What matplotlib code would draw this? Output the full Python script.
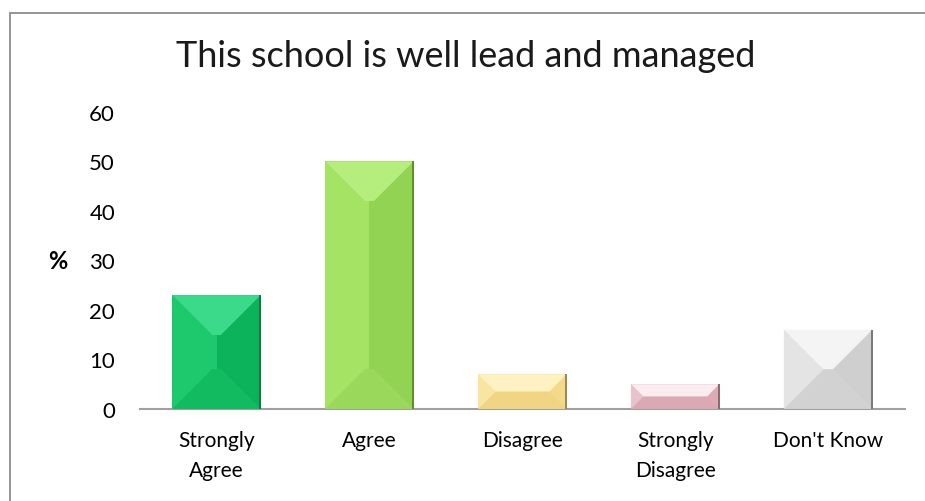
import numpy as np
import matplotlib
matplotlib.use("Agg")
import matplotlib.pyplot as plt
from matplotlib.patches import Polygon, Rectangle

categories = ["Strongly\nAgree", "Agree", "Disagree", "Strongly\nDisagree", "Don't Know"]
values = [23, 50, 7, 5, 16]
# base, top face, left face, right face, bottom face, edge
bar_colors = [
    ("#14bf64", "#3ada8a", "#1ec86c", "#0db35a", "#12bb60", "#05803f"),
    ("#9bdd5c", "#b6ee7e", "#a4e364", "#93d354", "#99d85a", "#5f8f30"),
    ("#f6dc90", "#fff2c2", "#f9e4a2", "#f3d98a", "#f0d585", "#9c8a50"),
    ("#e2b4bf", "#fbecf1", "#e8c2cc", "#dcabb7", "#dba9b5", "#8d6a72"),
    ("#d8d8d8", "#f4f4f4", "#e4e4e4", "#cfcfcf", "#d2d2d2", "#7a7a7a"),
]
yticks = [0, 10, 20, 30, 40, 50, 60]

plt.rcParams['font.family'] = ['Lato', 'DejaVu Sans']

fig = plt.figure(figsize=(9.25, 5.02), dpi=100)
ax = fig.add_axes([0.1514, 0.1833, 0.8266, 0.5917])

x = np.arange(len(values))
bars = ax.bar(x, values, width=0.58, color=[c[0] for c in bar_colors],
              edgecolor="none", zorder=2)
ax.set_xlim(-0.5, len(values) - 0.5)
ax.set_ylim(0, 60)
ax.set_yticks(yticks)
ax.set_xticks(x)
ax.set_xticklabels(categories, fontsize=15, linespacing=1.65)
ax.tick_params(axis='y', labelsize=16, length=0, pad=18)
ax.tick_params(axis='x', length=0, pad=15)
for s in ["top", "right", "left"]:
    ax.spines[s].set_visible(False)
ax.spines["bottom"].set_color("#a0a0a0")
ax.spines["bottom"].set_linewidth(1.5)

# bevel faces drawn in pixel space, then mapped back to data coords
fig.canvas.draw()
inv = ax.transData.inverted()
for b, cols in zip(bars, bar_colors):
    x0, y0 = b.get_x(), b.get_y()
    x1, y1 = x0 + b.get_width(), y0 + b.get_height()
    (px0, py0), (px1, py1) = ax.transData.transform([(x0, y0), (x1, y1)])
    d = min((px1 - px0) / 2, (py1 - py0) / 2, 40)
    ix0, ix1 = px0 + d, px1 - d
    iy0, iy1 = py0 + d, py1 - d
    faces = [
        ([(px0, py1), (px1, py1), (ix1, iy1), (ix0, iy1)], cols[1]),  # top
        ([(px0, py0), (px1, py0), (ix1, iy0), (ix0, iy0)], cols[4]),  # bottom
        ([(px0, py0), (ix0, iy0), (ix0, iy1), (px0, py1)], cols[2]),  # left
        ([(px1, py0), (ix1, iy0), (ix1, iy1), (px1, py1)], cols[3]),  # right
    ]
    for pts, c in faces:
        ax.add_patch(Polygon(inv.transform(pts), closed=True, facecolor=c,
                             edgecolor="none", zorder=3))
    # flat middle, split light/dark like the reference
    mx = (ix0 + ix1) / 2
    ax.add_patch(Polygon(inv.transform([(ix0, iy0), (mx, iy0), (mx, iy1), (ix0, iy1)]),
                         closed=True, facecolor=cols[2], edgecolor="none", zorder=3))
    ax.add_patch(Polygon(inv.transform([(mx, iy0), (ix1, iy0), (ix1, iy1), (mx, iy1)]),
                         closed=True, facecolor=cols[3], edgecolor="none", zorder=3))
    ax.add_patch(Polygon(inv.transform([(px1 - 2, py0), (px1, py0), (px1, py1), (px1 - 2, py1)]),
                         closed=True, facecolor=cols[5], edgecolor="none", zorder=4))

ax.text(-0.107, 0.5, "%", transform=ax.transAxes, fontsize=17, fontweight="bold",
        ha="center", va="center")

fig.text(0.503, 0.887, "This school is well lead and managed", ha="center", va="center",
         fontsize=26, color="#1a1a1a")

fig.patches.append(Rectangle((10 / 925, -0.1), 1.2, (502 - 13.5) / 502 + 0.1,
                             transform=fig.transFigure, fill=False,
                             edgecolor="#8c8c8c", linewidth=1.3))

fig.savefig("out.png", dpi=100)
